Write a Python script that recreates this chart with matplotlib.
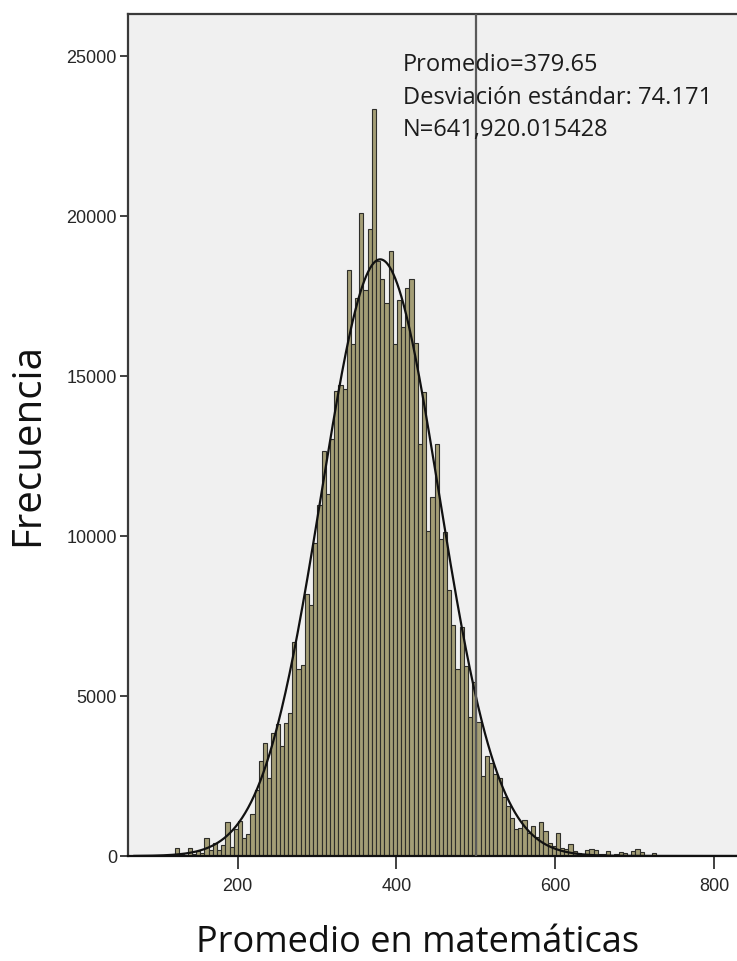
import numpy as np
import matplotlib
matplotlib.use("Agg")
import matplotlib.pyplot as plt

# Histograma del promedio en matemáticas con curva normal superpuesta
mean = 379.65
std = 74.171
n_total = 641920.015428

first_center = 124.0
bin_width = 5.27
curve_bin = 5.4

counts = [
    250, 60, 30, 250, 60, 170, 90, 570, 200, 400,
    200, 330, 1050, 280, 830, 1090, 570, 700, 1300, 2060,
    2980, 3530, 2440, 3850, 4140, 3430, 4160, 4480, 6700, 5830,
    5980, 8200, 7840, 9790, 10960, 12670, 11320, 13020, 14530, 14730,
    14580, 18320, 16000, 17440, 20100, 17700, 19580, 23350, 18600, 18040,
    17270, 18900, 16000, 17390, 16540, 17760, 18040, 16040, 12890, 14490,
    10150, 11230, 12860, 9910, 10120, 8310, 7230, 5850, 7160, 5950,
    4350, 5430, 4200, 2490, 3140, 2910, 2550, 2440, 1850, 1560,
    1190, 830, 880, 1140, 720, 950, 600, 1060, 780, 410,
    300, 720, 260, 220, 360, 150, 100, 60, 180, 220,
    200, 60, 50, 150, 40, 60, 110, 90, 30, 150,
    220, 120, 20, 30, 100,
]

x_ticks = [200, 400, 600, 800]
y_ticks = [0, 5000, 10000, 15000, 20000, 25000]
stats_lines = [
    "Promedio=379.65",
    "Desviación estándar: 74.171",
    "N=641,920.015428",
]
ref_line = 500

tick_font = ["Liberation Sans", "DejaVu Sans"]
label_font = ["Open Sans", "DejaVu Sans"]

fig = plt.figure(figsize=(7.37, 9.62), dpi=100)
ax = fig.add_axes([128 / 737, 1 - 857 / 962, 1 - 128 / 737, (857 - 15) / 962])
ax.set_facecolor("#f0f0f0")

centers = first_center + bin_width * np.arange(len(counts))
ax.bar(centers, counts, width=bin_width, color="#a49e76",
       edgecolor="#2e2e2a", linewidth=0.8, zorder=2)

xs = np.linspace(70, 830, 600)
curve = n_total * curve_bin / (std * np.sqrt(2 * np.pi)) * np.exp(-0.5 * ((xs - mean) / std) ** 2)
ax.plot(xs, curve, color="#111111", linewidth=1.6, zorder=3)

ax.axvline(ref_line, color="#5a5a5a", linewidth=1.6, zorder=4)

ax.set_xlim(62, 829)
ax.set_ylim(0, 26312)
ax.set_xticks(x_ticks)
ax.set_yticks(y_ticks)
ax.set_xticklabels([str(v) for v in x_ticks], family=tick_font, fontsize=13, color="#262626")
ax.set_yticklabels([str(v) for v in y_ticks], family=tick_font, fontsize=13, color="#262626")
ax.tick_params(axis="x", length=9, width=1.3, color="#333333", pad=6)
ax.tick_params(axis="y", length=6, width=1.3, color="#333333", pad=2)

for side in ["left", "bottom", "top"]:
    ax.spines[side].set_color("#3a3a3a")
    ax.spines[side].set_linewidth(1.6)
ax.spines["bottom"].set_color("#111111")
ax.spines["right"].set_visible(False)

for i, line in enumerate(stats_lines):
    fig.text(403 / 737, 1 - (65 + 32.5 * i) / 962, line, family=label_font,
             fontsize=17, color="#1c1c1c", ha="left", va="center", zorder=1)

fig.text(28 / 737, 1 - 445 / 962, "Frecuencia", family=label_font, fontsize=29,
         rotation=90, ha="center", va="center", color="#111111")
fig.text(418 / 737, 1 - 943 / 962, "Promedio en matemáticas", family=label_font,
         fontsize=26, ha="center", va="center", color="#111111")

fig.savefig("out.png", dpi=100)
